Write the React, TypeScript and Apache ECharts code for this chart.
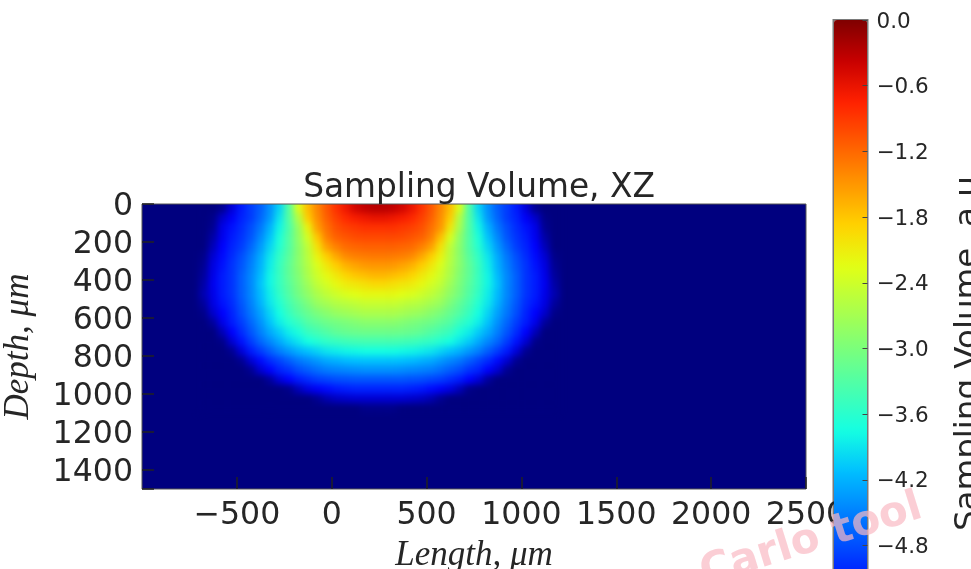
import React, { useEffect, useRef } from "react";
import * as echarts from "echarts";

const jetColors = ["#00007f","#0000c8","#0000ff","#0040ff","#0080ff","#00bfff","#15ffe2","#48ffaf","#7bff7b","#afff48","#e2ff15","#ffd200","#ff9700","#ff5c00","#ff2100","#c80000","#7f0000"];
const columnCentres = [-675,-625,-575,-525,-475,-425,-375,-325,-275,-225,-175,-125,-75,-25,25,75,125,175,225,275,325,375,425,475,525,575,625,675,725,775,825,875,925,975,1025,1075,1125,1175];
const rowCentres = [25,75,125,175,225,275,325,375,425,475,525,575,625,675,725,775,825,875,925,975,1025,1075];
const depthLog: number[][] = [
[-6,-6,-5.9,-5.5,-5.1,-4.9,-4.7,-4.4,-4.0,-3.3,-2.3,-1.75,-1.4,-1.1,-.85,-.65,-.45,-.35,-.3,-.3,-.35,-.45,-.62,-.85,-1.1,-1.4,-1.75,-2.3,-3.3,-4.0,-4.4,-4.7,-4.9,-5.1,-5.5,-5.9,-6,-6],
[-6,-5.95,-5.6,-5.3,-5.05,-4.9,-4.65,-4.35,-3.9,-3.3,-2.6,-1.85,-1.45,-1.15,-.95,-.8,-.7,-.65,-.6,-.6,-.65,-.7,-.8,-.95,-1.15,-1.45,-1.85,-2.6,-3.3,-3.9,-4.35,-4.65,-4.9,-5.05,-5.3,-5.6,-5.95,-6],
[-6,-5.9,-5.4,-5.15,-5,-4.8,-4.55,-4.2,-3.8,-3.35,-2.8,-2.15,-1.55,-1.25,-1.05,-.95,-.9,-.85,-.85,-.85,-.85,-.9,-.95,-1.05,-1.25,-1.5,-2.05,-2.7,-3.3,-3.8,-4.2,-4.55,-4.8,-5,-5.15,-5.4,-5.9,-6],
[-6,-5.8,-5.35,-5.1,-4.95,-4.75,-4.45,-4.1,-3.7,-3.3,-2.85,-2.35,-1.8,-1.35,-1.15,-1.08,-1.02,-1,-1,-1,-1,-1.02,-1.08,-1.15,-1.35,-1.75,-2.3,-2.85,-3.3,-3.7,-4.1,-4.45,-4.75,-4.95,-5.1,-5.35,-5.8,-6],
[-6,-5.7,-5.25,-5.05,-4.9,-4.65,-4.35,-4,-3.65,-3.3,-2.9,-2.5,-2,-1.55,-1.35,-1.22,-1.18,-1.15,-1.15,-1.15,-1.15,-1.18,-1.22,-1.35,-1.55,-2,-2.5,-2.9,-3.3,-3.65,-4,-4.35,-4.65,-4.9,-5.05,-5.25,-5.7,-6],
[-5.95,-5.55,-5.2,-5,-4.8,-4.55,-4.25,-3.9,-3.55,-3.25,-2.9,-2.55,-2.15,-1.85,-1.6,-1.42,-1.35,-1.32,-1.3,-1.3,-1.32,-1.35,-1.42,-1.6,-1.85,-2.15,-2.55,-2.9,-3.25,-3.55,-3.9,-4.25,-4.55,-4.8,-5,-5.2,-5.55,-5.95],
[-5.9,-5.45,-5.15,-4.95,-4.75,-4.5,-4.2,-3.85,-3.5,-3.2,-2.9,-2.6,-2.3,-2.05,-1.85,-1.68,-1.58,-1.52,-1.5,-1.5,-1.52,-1.58,-1.68,-1.85,-2.05,-2.3,-2.6,-2.9,-3.2,-3.5,-3.85,-4.2,-4.5,-4.75,-4.95,-5.15,-5.45,-5.9],
[-5.85,-5.4,-5.1,-4.95,-4.7,-4.45,-4.15,-3.8,-3.5,-3.2,-2.95,-2.65,-2.4,-2.2,-2.05,-1.9,-1.8,-1.75,-1.7,-1.7,-1.75,-1.8,-1.9,-2.05,-2.2,-2.4,-2.65,-2.95,-3.2,-3.5,-3.8,-4.15,-4.45,-4.7,-4.95,-5.1,-5.4,-5.85],
[-5.8,-5.35,-5.1,-4.95,-4.7,-4.45,-4.1,-3.8,-3.5,-3.25,-3,-2.75,-2.5,-2.35,-2.2,-2.1,-2.05,-2,-1.95,-1.95,-2,-2.05,-2.1,-2.2,-2.35,-2.5,-2.75,-3,-3.25,-3.5,-3.8,-4.1,-4.45,-4.7,-4.95,-5.1,-5.35,-5.8],
[-5.75,-5.4,-5.1,-4.95,-4.7,-4.45,-4.15,-3.85,-3.55,-3.3,-3.05,-2.85,-2.65,-2.5,-2.4,-2.3,-2.25,-2.2,-2.2,-2.2,-2.2,-2.25,-2.3,-2.4,-2.5,-2.65,-2.85,-3.05,-3.3,-3.55,-3.85,-4.15,-4.45,-4.7,-4.95,-5.1,-5.4,-5.75],
[-5.85,-5.45,-5.15,-5,-4.75,-4.5,-4.2,-3.9,-3.65,-3.4,-3.2,-3,-2.8,-2.7,-2.6,-2.55,-2.5,-2.45,-2.45,-2.45,-2.45,-2.5,-2.55,-2.6,-2.7,-2.8,-3,-3.2,-3.4,-3.65,-3.9,-4.2,-4.5,-4.75,-5,-5.15,-5.45,-5.85],
[-5.95,-5.6,-5.25,-5.05,-4.8,-4.55,-4.3,-4,-3.75,-3.5,-3.3,-3.15,-3,-2.9,-2.8,-2.75,-2.7,-2.65,-2.65,-2.65,-2.65,-2.7,-2.75,-2.8,-2.9,-3,-3.15,-3.3,-3.5,-3.75,-4,-4.3,-4.55,-4.8,-5.05,-5.25,-5.6,-5.95],
[-6,-5.85,-5.4,-5.1,-4.9,-4.65,-4.4,-4.1,-3.85,-3.65,-3.5,-3.3,-3.2,-3.1,-3.05,-3,-2.95,-2.9,-2.9,-2.9,-2.9,-2.95,-3,-3.05,-3.1,-3.2,-3.3,-3.5,-3.65,-3.85,-4.1,-4.4,-4.65,-4.9,-5.1,-5.4,-5.85,-6],
[-6,-6,-5.7,-5.25,-5,-4.75,-4.5,-4.25,-4.05,-3.85,-3.7,-3.5,-3.4,-3.3,-3.2,-3.15,-3.12,-3.1,-3.1,-3.1,-3.1,-3.12,-3.15,-3.2,-3.3,-3.4,-3.5,-3.7,-3.85,-4.05,-4.25,-4.5,-4.75,-5,-5.25,-5.7,-6,-6],
[-6,-6,-5.95,-5.55,-5.15,-4.9,-4.65,-4.45,-4.25,-4.05,-3.9,-3.75,-3.65,-3.55,-3.5,-3.45,-3.42,-3.4,-3.4,-3.4,-3.4,-3.42,-3.45,-3.5,-3.55,-3.65,-3.75,-3.9,-4.05,-4.25,-4.45,-4.65,-4.9,-5.15,-5.55,-5.95,-6,-6],
[-6,-6,-6,-5.9,-5.5,-5.1,-4.9,-4.7,-4.5,-4.35,-4.2,-4.1,-4,-3.9,-3.85,-3.8,-3.78,-3.75,-3.75,-3.75,-3.75,-3.78,-3.8,-3.85,-3.9,-4,-4.1,-4.2,-4.35,-4.5,-4.7,-4.9,-5.1,-5.5,-5.9,-6,-6,-6],
[-6,-6,-6,-6,-5.9,-5.55,-5.2,-5,-4.85,-4.7,-4.55,-4.45,-4.35,-4.25,-4.2,-4.15,-4.12,-4.1,-4.1,-4.1,-4.1,-4.12,-4.15,-4.2,-4.25,-4.35,-4.45,-4.55,-4.7,-4.85,-5,-5.2,-5.55,-5.9,-6,-6,-6,-6],
[-6,-6,-6,-6,-6,-5.9,-5.55,-5.25,-5.05,-4.95,-4.8,-4.7,-4.6,-4.52,-4.48,-4.45,-4.42,-4.4,-4.4,-4.4,-4.4,-4.42,-4.45,-4.48,-4.52,-4.6,-4.7,-4.8,-4.95,-5.05,-5.25,-5.55,-5.9,-6,-6,-6,-6,-6],
[-6,-6,-6,-6,-6,-6,-6,-5.85,-5.5,-5.25,-5.1,-5,-4.9,-4.85,-4.8,-4.78,-4.75,-4.75,-4.75,-4.75,-4.75,-4.75,-4.78,-4.8,-4.85,-4.9,-5,-5.1,-5.25,-5.5,-5.85,-6,-6,-6,-6,-6,-6,-6],
[-6,-6,-6,-6,-6,-6,-6,-6,-6,-5.95,-5.7,-5.45,-5.3,-5.2,-5.12,-5.08,-5.05,-5.05,-5.05,-5.05,-5.05,-5.05,-5.08,-5.12,-5.2,-5.3,-5.45,-5.7,-5.95,-6,-6,-6,-6,-6,-6,-6,-6,-6],
[-6,-6,-6,-6,-6,-6,-6,-6,-6,-6,-6,-6,-5.9,-5.75,-5.65,-5.6,-5.55,-5.55,-5.55,-5.55,-5.55,-5.55,-5.6,-5.65,-5.75,-5.9,-6,-6,-6,-6,-6,-6,-6,-6,-6,-6,-6,-6],
[-6,-6,-6,-6,-6,-6,-6,-6,-6,-6,-6,-6,-6,-6,-6,-6,-6,-5.95,-5.95,-5.95,-5.95,-6,-6,-6,-6,-6,-6,-6,-6,-6,-6,-6,-6,-6,-6,-6,-6,-6],
];
const depthMaxLabelValue = 1400;
const titleText = "Sampling Volume, XZ";
const xName = "Length, \u03bcm";
const yName = "Depth, \u03bcm";
const barName = "Sampling Volume, a.u.";
const watermark = "Monte Carlo tool";

const minus = (s: string) => s.replace("-", "\u2212");
const cells: number[][] = [];
rowCentres.forEach((d, r) => columnCentres.forEach((x, c) => cells.push([x, d, depthLog[r][c]])));

const renderCell = (_: any, api: any) => {
  const x = api.value(0), d = api.value(1);
  const a = api.coord([x - 25, d - 25]);
  const b = api.coord([x + 25, d + 25]);
  const lift = d === 25 ? 12 : 0;
  return {
    type: "rect",
    shape: { x: a[0] - 0.3, y: a[1] - lift - 0.3, width: b[0] - a[0] + 0.6, height: b[1] - a[1] + lift + 0.6 },
    style: { fill: api.visual("color") },
  };
};

const ink = "#262626";
const sans = "'DejaVu Sans'";
const serif = "'Liberation Serif'";

export default function App() {
  const heatRef = useRef<HTMLDivElement>(null);
  const topRef = useRef<HTMLDivElement>(null);
  useEffect(() => {
    const heat = echarts.init(heatRef.current!, undefined, { renderer: "svg" });
    heat.setOption({
      animation: false,
      grid: { left: 0, right: 0, top: 12, bottom: 0 },
      xAxis: { type: "value", min: -1000, max: 2500, show: false },
      yAxis: { type: "value", min: 0, max: 1500, inverse: true, show: false },
      visualMap: { show: false, min: -6, max: 0, dimension: 2, inRange: { color: jetColors } },
      series: [{ type: "custom", renderItem: renderCell, data: cells, clip: false, encode: { x: 0, y: 1 }, silent: true }],
    });
    const top = echarts.init(topRef.current!, undefined, { renderer: "svg" });
    top.setOption({
      animation: false,
      title: { text: titleText, left: 474, top: 164, textAlign: "center", textStyle: { fontFamily: sans, fontSize: 32.8, fontWeight: "normal", color: ink } },
      grid: [
        { left: 142, top: 204, width: 664, height: 285, show: true, borderColor: "#555", borderWidth: 1, backgroundColor: "transparent", outerBoundsMode: "none" },
        { left: 833.5, top: 20, width: 34, height: 657, show: true, borderColor: "#7a7a7a", borderWidth: 2, backgroundColor: "transparent", outerBoundsMode: "none" },
      ],
      xAxis: [
        {
          gridIndex: 0, type: "value", min: -1000, max: 2500, interval: 500, position: "bottom",
          name: xName, nameLocation: "middle", nameGap: 47,
          nameTextStyle: { fontFamily: serif, fontStyle: "italic", fontSize: 35, color: ink },
          axisLine: { show: false, onZero: false }, splitLine: { show: false },
          axisTick: { inside: true, length: 12, lineStyle: { color: "#222", width: 1.5 } },
          axisLabel: { margin: 8, fontFamily: sans, fontSize: 31.6, color: ink, formatter: (v: number) => minus(String(v)) },
        },
        { gridIndex: 1, type: "value", min: 0, max: 1, show: false },
      ],
      yAxis: [
        {
          gridIndex: 0, type: "value", min: 0, max: 1500, interval: 200, inverse: true, position: "left",
          name: yName, nameLocation: "middle", nameGap: 108,
          nameTextStyle: { fontFamily: serif, fontStyle: "italic", fontSize: 35, color: ink },
          axisLine: { show: false, onZero: false }, splitLine: { show: false },
          axisTick: { inside: true, length: 12, lineStyle: { color: "#222", width: 1.5 } },
          axisLabel: { margin: 9, fontFamily: sans, fontSize: 31.6, color: ink, formatter: (v: number) => (v > depthMaxLabelValue ? "" : String(v)) },
        },
        {
          gridIndex: 1, type: "value", min: -6, max: 0, interval: 0.6, position: "right", z: 10,
          name: barName, nameLocation: "middle", nameGap: 82, nameRotate: 90,
          nameTextStyle: { fontFamily: sans, fontSize: 32.5, color: ink },
          axisLine: { show: false, onZero: false }, splitLine: { show: false },
          axisTick: { inside: true, length: 5, lineStyle: { color: "#444", width: 1 } },
          axisLabel: { margin: 9, fontFamily: sans, fontSize: 21.5, color: ink, formatter: (v: number) => (v < -5 ? "" : minus(v.toFixed(1))) },
        },
      ],
      visualMap: { show: true, min: -6, max: 0, left: 834, top: 20, itemWidth: 33, itemHeight: 657, padding: 0, calculable: false, hoverLink: false, showLabel: false, text: null, seriesIndex: [], inRange: { color: jetColors }, z: 4 },
      graphic: [{
        type: "text", x: 920, y: 503, rotation: 0.3, z: 100, silent: true,
        style: { text: watermark, fontFamily: sans, fontSize: 42, fontWeight: "bold", fill: "rgba(250,185,195,0.7)", align: "right", verticalAlign: "middle" },
      }],
      series: [],
    });
    return () => { heat.dispose(); top.dispose(); };
  }, []);
  return (
    <div style={{ position: "absolute", left: 0, top: 0, width: 971, height: 569, overflow: "hidden", background: "#fff" }}>
      <div style={{ position: "absolute", left: 142, top: 204, width: 664, height: 285, overflow: "hidden", background: "#00007f" }}>
        <div ref={heatRef} style={{ position: "absolute", left: 0, top: -12, width: 664, height: 297, filter: "blur(3px)" }} />
      </div>
      <div ref={topRef} style={{ position: "absolute", left: 0, top: 0, width: 971, height: 569, filter: "blur(0.6px)" }} />
    </div>
  );
}
